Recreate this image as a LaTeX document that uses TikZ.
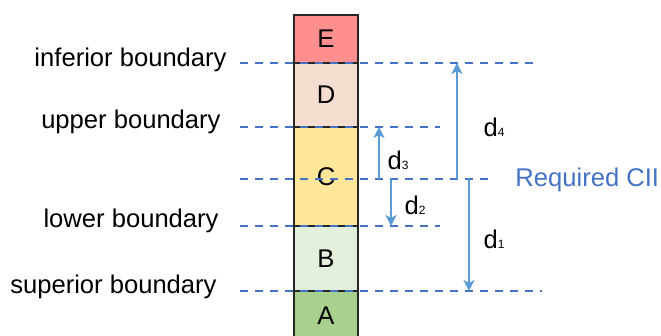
\documentclass[tikz,border=0pt]{standalone}
\usepackage{fontspec}
\setmainfont{Liberation Sans}
\usetikzlibrary{arrows.meta}
\definecolor{bandE}{HTML}{FF8F8F}
\definecolor{bandD}{HTML}{F5DED0}
\definecolor{bandC}{HTML}{FFE699}
\definecolor{bandB}{HTML}{E2EFDA}
\definecolor{bandA}{HTML}{A9D18E}
\definecolor{lineblue}{HTML}{4472C4}
\definecolor{arrowblue}{HTML}{5B9BD5}
\tikzset{
  band/.style={draw=black!85,line width=0.8pt,minimum width=32pt,inner sep=0pt},
  level/.style={draw=lineblue,line width=0.8pt,dash pattern=on 4pt off 3.5pt},
  gap/.style={draw=arrowblue,line width=1pt,-{Stealth[length=5.5pt,width=5.5pt,inset=1.5pt]}}
}
\newcommand{\dlab}[1]{d{\fontsize{6}{6}\selectfont #1}}
\begin{document}
\begin{tikzpicture}[x=0.5pt,y=-0.5pt,font=\fontsize{12.8}{15}\selectfont]

      \clip (0,0) rectangle (661,336);

      \begin{scope}[every node/.style={band}]
        \node[fill=bandE,minimum height=24pt]   (E) at (326,39)    {E};
        \node[fill=bandD,minimum height=32pt]   (D) at (326,95)    {D};
        \node[fill=bandC,minimum height=49.5pt] (C) at (326,176.5) {C};
        \node[fill=bandB,minimum height=32.5pt] (B) at (326,258.5) {B};
        \node[fill=bandA,minimum height=24.5pt] (A) at (326,315.5) {A};
      \end{scope}

      \begin{scope}[every node/.style={anchor=base east,inner sep=0pt}]
        \node (inf) at (227,67)  {inferior boundary};
        \node (upp) at (221,129) {upper boundary};
        \node (low) at (219,228) {lower boundary};
        \node (sup) at (217,294) {superior boundary};
      \end{scope}

      \coordinate (inf-l) at (240,63);   \coordinate (inf-r) at (535,63);
      \coordinate (upp-l) at (240,127);  \coordinate (upp-r) at (440,127);
      \coordinate (req-l) at (240,179);  \coordinate (req-r) at (490,179);
      \coordinate (low-l) at (240,226);  \coordinate (low-r) at (440,226);
      \coordinate (sup-l) at (240,291);  \coordinate (sup-r) at (542,291);

      \path[level] (inf-l) -- (inf-r);
      \path[level] (upp-l) -- (upp-r);
      \path[level] (req-l) -- (req-r);
      \path[level] (low-l) -- (low-r);
      \path[level] (sup-l) -- (sup-r);

      \node[anchor=west,inner sep=0pt,text=lineblue] (req) at (515,180) {Required CII};

      \coordinate (d1-a) at (469,179); \coordinate (d1-b) at (469,291);
      \coordinate (d2-a) at (391,179); \coordinate (d2-b) at (391,226);
      \coordinate (d3-a) at (379,179); \coordinate (d3-b) at (379,127);
      \coordinate (d4-a) at (457,179); \coordinate (d4-b) at (457,63);

      \path[gap] (d1-a) -- (d1-b);
      \path[gap] (d2-a) -- (d2-b);
      \path[gap] (d3-a) -- (d3-b);
      \path[gap] (d4-a) -- (d4-b);

      \node (d1) at (494,239) {\dlab{1}};
      \node (d2) at (415,205) {\dlab{2}};
      \node (d3) at (398,160) {\dlab{3}};
      \node (d4) at (494,127) {\dlab{4}};

    \end{tikzpicture}
\end{document}
